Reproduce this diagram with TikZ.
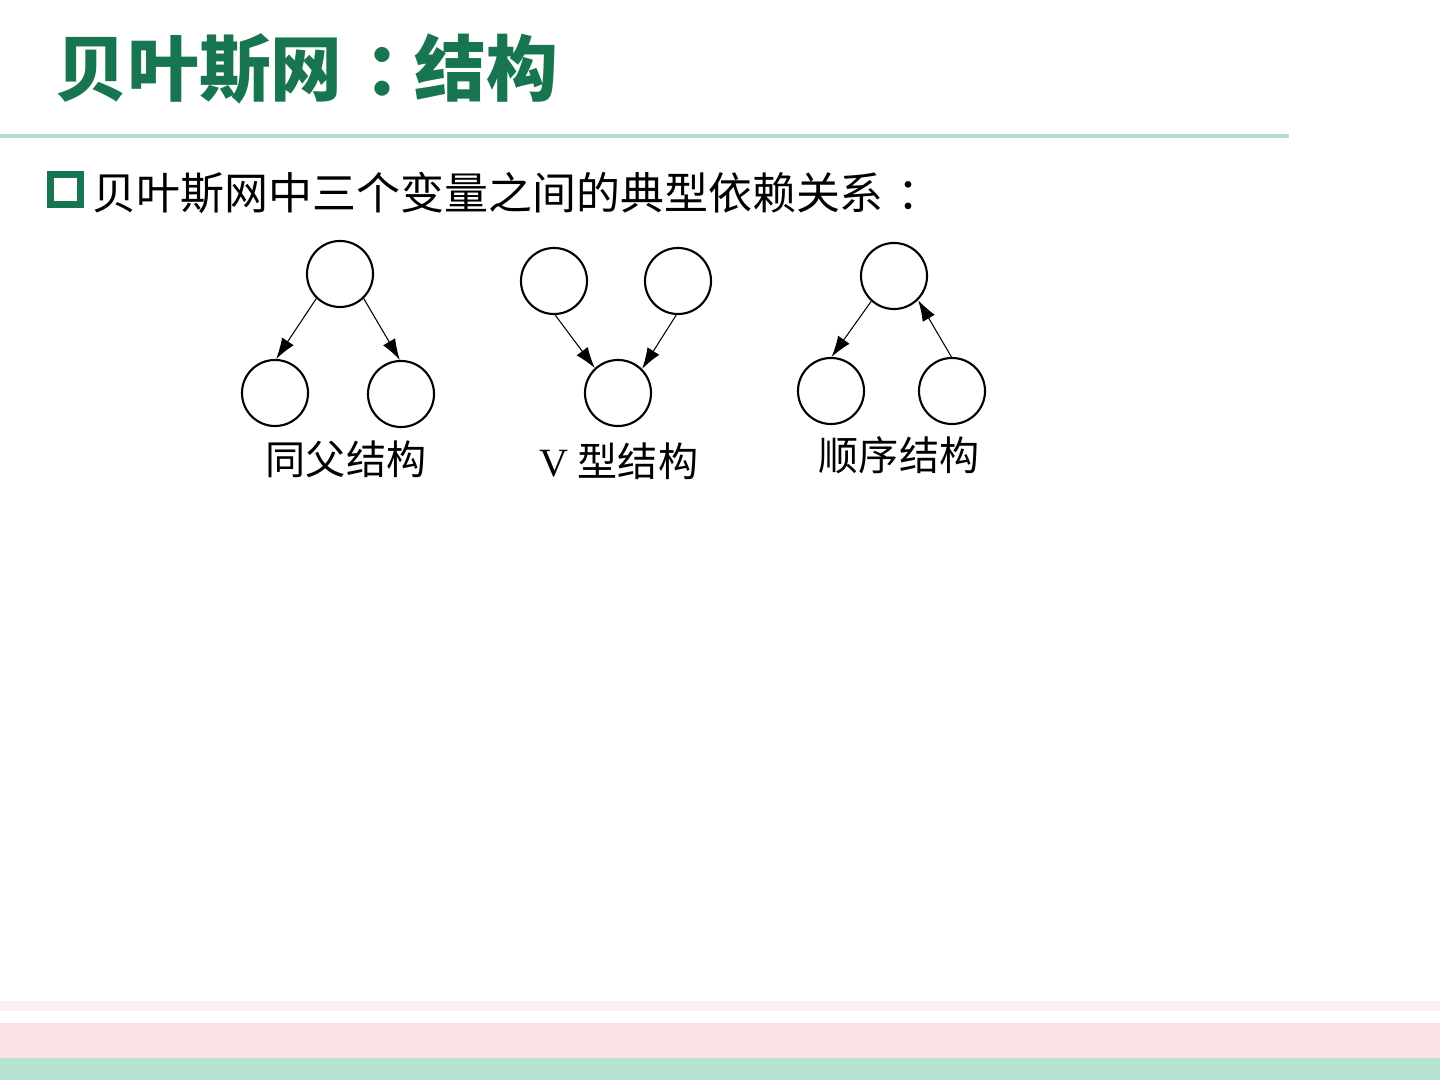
\documentclass[tikz,border=0pt]{standalone}
\usepackage{fontspec}
\usepackage{tikz}
\usetikzlibrary{arrows.meta}
\newfontfamily\cjk{Noto Sans CJK SC}
\newfontfamily\tnr{Liberation Serif}
\definecolor{ttlgreen}{HTML}{177550}
\definecolor{rulegreen}{HTML}{B3DFCC}
\definecolor{barpink}{HTML}{FBE2E4}
\definecolor{palepink}{HTML}{FCF0F1}
\definecolor{bargreen}{HTML}{B7E3D2}
\newcommand{\midcolon}{\kern0.3em：\kern-0.3em}

\begin{document}
\begin{tikzpicture}[
    x=0.01cm, y=-0.01cm,
    var/.style={circle, draw, line width=0.6pt, minimum size=6.6mm, inner sep=0pt},
    arr/.style={-{Latex[length=2.1mm,width=1.4mm]}, line width=0.3pt},
    lbl/.style={font=\cjk\fontsize{11.4}{11.4}\selectfont, inner sep=0pt},
    bullet/.style={draw=ttlgreen, line width=0.7mm, minimum size=3mm, inner sep=0pt}
  ]
  \useasboundingbox (0,0) rectangle (1440,1080);

  % footer bars
  \fill[palepink]  (0,1001) rectangle (1440,1011);
  \fill[barpink]   (0,1023) rectangle (1440,1058);
  \fill[bargreen]  (0,1058) rectangle (1440,1080);

  % title and rule
  \node[anchor=west, text=ttlgreen, inner sep=0pt,
        font=\cjk\bfseries\fontsize{20.4}{20.4}\selectfont] (title) at (55,69) {贝叶斯网\midcolon 结构};
  \draw[rulegreen, line width=0.04cm] (0,136) -- (1289,136);

  \node[bullet] (mark) at (65.5,189.5) {};
  \node[anchor=west, inner sep=0pt, font=\cjk\fontsize{12.5}{12.5}\selectfont]
    (intro) at (92,193) {贝叶斯网中三个变量之间的典型依赖关系\midcolon};

  % common parent
  \node[var] (a1) at (340,274) {};
  \node[var] (a2) at (275,393) {};
  \node[var] (a3) at (401,394) {};
  % v-structure
  \node[var] (b1) at (554,281) {};
  \node[var] (b2) at (678,281) {};
  \node[var] (b3) at (618,393) {};
  % chain
  \node[var] (c1) at (894,276) {};
  \node[var] (c2) at (831,391) {};
  \node[var] (c3) at (952,391) {};

  \node[lbl] (lab1) at (346,459) {同父结构};
  \node[lbl] (lab2) at (619,461) {{\tnr V} 型结构};
  \node[lbl] (lab3) at (899,455) {顺序结构};

  \draw[arr] (a1.226) -- (a2.88);
  \draw[arr] (a1.314) -- (a3.92);
  \draw[arr] (b1.272) -- (b3.133);
  \draw[arr] (b2.267) -- (b3.45);
  \draw[arr] (c1.228) -- (c2.89);
  \draw[arr] (c3.91) -- (c1.315);
\end{tikzpicture}
\end{document}
